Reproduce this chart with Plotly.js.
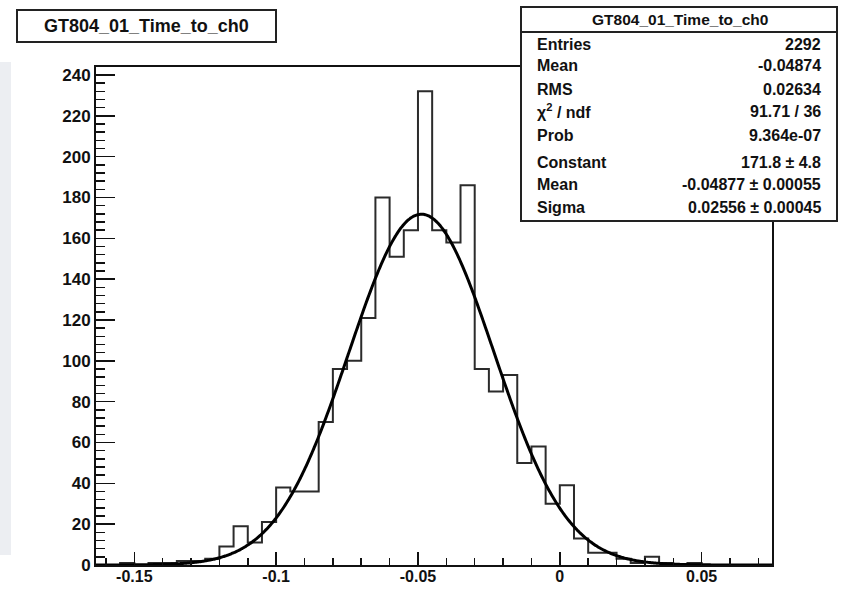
<!DOCTYPE html>
<html>
<head>
<meta charset="utf-8">
<script src="https://cdn.plot.ly/plotly-3.0.1.min.js"></script>
<style>
  html, body { margin: 0; padding: 0; background: #ffffff; }
  #chart { width: 843px; height: 589px; }
</style>
</head>
<body>
<div id="chart"></div>
<script>
// ---------------- data ----------------
const histTitle = "GT804_01_Time_to_ch0";
const binLow = -0.165;
const binWidth = 0.005;
const counts = [
  0, 0, 1, 0, 1, 1, 2, 2, 3, 9,
  19, 11, 21, 38, 36, 36, 70, 96, 100, 121,
  180, 151, 164, 232, 164, 158, 186, 96, 85, 93,
  50, 58, 30, 39, 13, 6, 6, 3, 1, 4,
  1, 0, 1, 0, 0, 0, 0, 0
];
const fitConstant = 171.8;
const fitMean = -0.04877;
const fitSigma = 0.02556;

const xTickVals = [-0.15, -0.1, -0.05, 0, 0.05];
const xTickText = ["-0.15", "-0.1", "-0.05", "0", "0.05"];
const yTickVals = [0, 20, 40, 60, 80, 100, 120, 140, 160, 180, 200, 220, 240];
const yTickText = ["0", "20", "40", "60", "80", "100", "120", "140", "160", "180", "200", "220", "240"];

const statLabels = ["Entries", "Mean", "RMS", "\u03c7<sup>2</sup> / ndf", "Prob", "Constant", "Mean", "Sigma"];
const statValues = ["2292", "-0.04874", "0.02634", "91.71 / 36", "9.364e-07", "171.8 \u00b1 4.8", "-0.04877 \u00b1 0.00055", "0.02556 \u00b1 0.00045"];

// ---------------- layout geometry ----------------
const W = 843, H = 589;
const M = { l: 96, r: 71, t: 67, b: 24 };
const PW = W - M.l - M.r, PH = H - M.t - M.b;
const xRange = [-0.1635, 0.0748];
const yRange = [0, 243.9];
const px = v => (v - M.l) / PW;        // pixel -> paper x
const py = v => (H - M.b - v) / PH;    // pixel -> paper y

// ---------------- traces ----------------
const hx = [binLow], hy = [0];
for (let i = 0; i < counts.length; i++) {
  hx.push(binLow + i * binWidth);
  hy.push(counts[i]);
}
hx.push(binLow + counts.length * binWidth); hy.push(counts[counts.length - 1]);
hx.push(binLow + counts.length * binWidth); hy.push(0);

const histTrace = {
  type: "scatter", mode: "lines", x: hx, y: hy,
  line: { shape: "hv", color: "#2b2b2b", width: 2 },
  hoverinfo: "skip", showlegend: false
};

const fx = [], fy = [];
const nS = 500;
for (let i = 0; i <= nS; i++) {
  const x = xRange[0] + (xRange[1] - xRange[0]) * i / nS;
  fx.push(x);
  fy.push(fitConstant * Math.exp(-0.5 * Math.pow((x - fitMean) / fitSigma, 2)));
}
const fitTrace = {
  type: "scatter", mode: "lines", x: fx, y: fy,
  line: { color: "#000000", width: 3, shape: "spline" },
  hoverinfo: "skip", showlegend: false
};

// ---------------- decorations ----------------
const font = "Liberation Sans, Arial, Helvetica, sans-serif";
const shapes = [
  { type: "rect", xref: "paper", yref: "paper", x0: px(0), x1: px(11), y0: py(555), y1: py(62),
    fillcolor: "#eceef2", line: { width: 0 }, layer: "below" },
  { type: "rect", xref: "paper", yref: "paper", x0: px(17), x1: px(276), y0: py(42), y1: py(10),
    fillcolor: "#ffffff", line: { color: "#222222", width: 2 }, layer: "above" },
  { type: "rect", xref: "paper", yref: "paper", x0: px(521), x1: px(837), y0: py(221), y1: py(7),
    fillcolor: "#ffffff", line: { color: "#222222", width: 2 }, layer: "above" },
  { type: "line", xref: "paper", yref: "paper", x0: px(521), x1: px(837), y0: py(32), y1: py(32),
    line: { color: "#222222", width: 2 }, layer: "above" }
];

const annotations = [
  { xref: "paper", yref: "paper", x: px(146), y: py(26), xanchor: "center", yanchor: "middle",
    text: histTitle, showarrow: false, font: { family: font, size: 18, weight: "bold", color: "#111" } },
  { xref: "paper", yref: "paper", x: px(680), y: py(20), xanchor: "center", yanchor: "middle",
    text: histTitle, showarrow: false, font: { family: font, size: 15.5, weight: "bold", color: "#111" } }
];
const rowY = [45, 66, 89, 111, 135, 162, 185, 208];
for (let i = 0; i < statLabels.length; i++) {
  annotations.push({ xref: "paper", yref: "paper", x: px(535), y: py(rowY[i]), xanchor: "left", yanchor: "middle",
    text: statLabels[i], showarrow: false, font: { family: font, size: 16, weight: "bold", color: "#111" } });
  annotations.push({ xref: "paper", yref: "paper", x: px(823), y: py(rowY[i]), xanchor: "right", yanchor: "middle",
    text: statValues[i], showarrow: false, font: { family: font, size: 16, weight: "bold", color: "#111" } });
}

const layout = {
  width: W, height: H,
  margin: { l: M.l, r: M.r, t: M.t, b: M.b, pad: 0 },
  paper_bgcolor: "#ffffff", plot_bgcolor: "#ffffff",
  showlegend: false,
  xaxis: {
    range: xRange, showgrid: false, zeroline: false,
    showline: true, linecolor: "#111", linewidth: 2, mirror: true,
    tickmode: "array", tickvals: xTickVals, ticktext: xTickText,
    ticks: "inside", ticklen: 13, tickwidth: 1.5, tickcolor: "#111",
    ticklabelstandoff: -4,
    minor: { ticks: "inside", dtick: 0.01, tick0: 0, ticklen: 7, tickwidth: 1.5, tickcolor: "#111", showgrid: false },
    tickfont: { family: font, size: 16, weight: "bold", color: "#111" }
  },
  yaxis: {
    range: yRange, showgrid: false, zeroline: false,
    showline: true, linecolor: "#111", linewidth: 2, mirror: true,
    tickmode: "array", tickvals: yTickVals, ticktext: yTickText,
    ticks: "inside", ticklen: 19, tickwidth: 1.5, tickcolor: "#111",
    minor: { ticks: "inside", dtick: 4, tick0: 0, ticklen: 9, tickwidth: 1.5, tickcolor: "#111", showgrid: false },
    tickfont: { family: font, size: 17, weight: "bold", color: "#111" }
  },
  shapes: shapes,
  annotations: annotations
};

Plotly.newPlot("chart", [histTrace, fitTrace], layout, { displayModeBar: false, staticPlot: true });
</script>
</body>
</html>
